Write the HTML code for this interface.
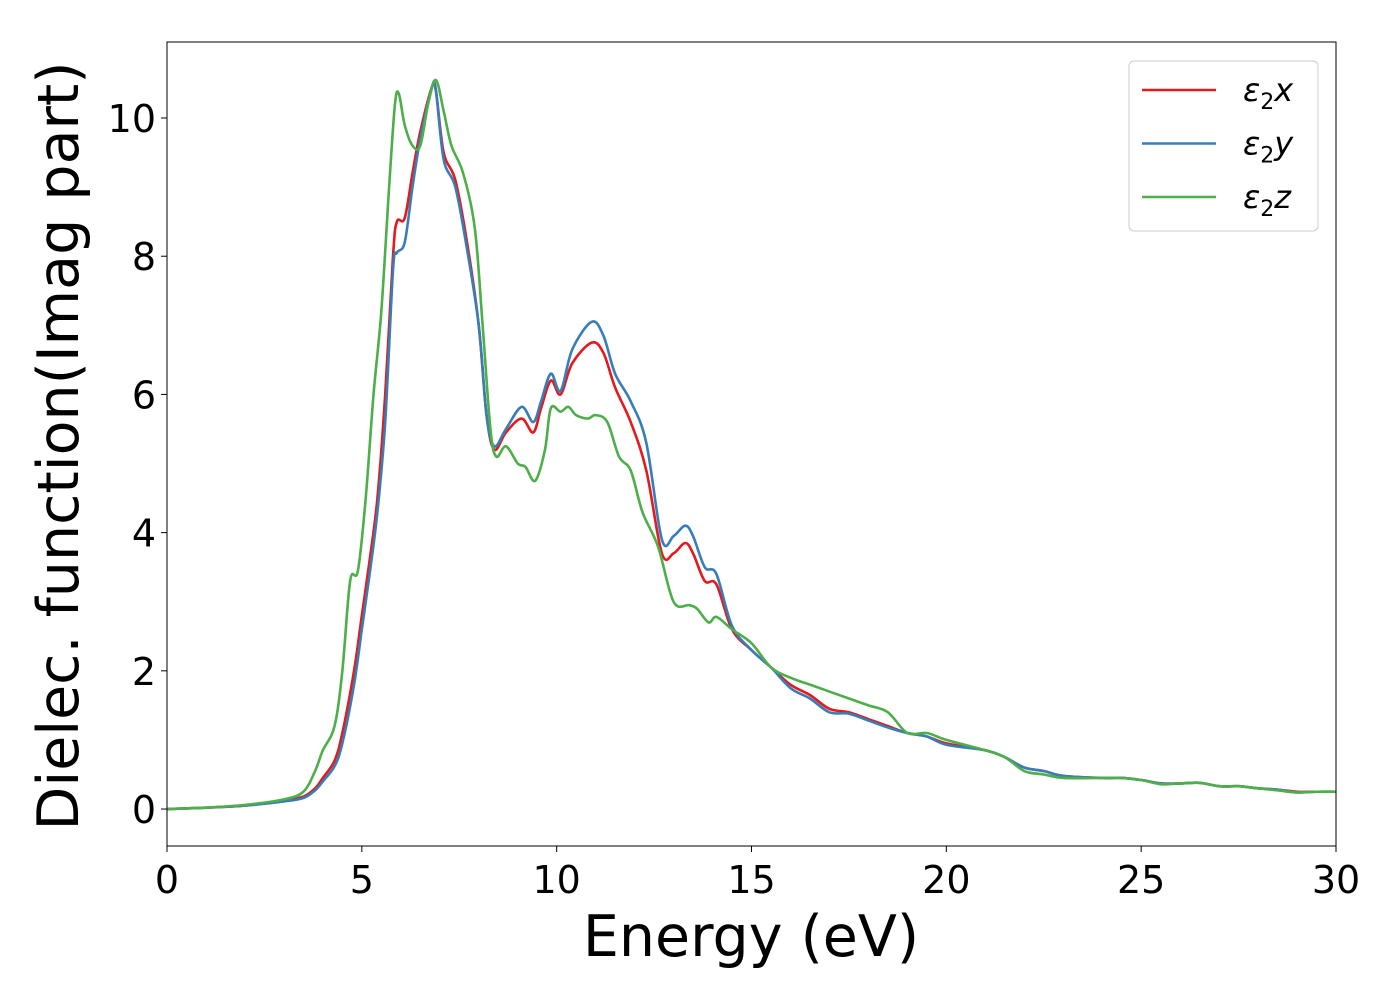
<!DOCTYPE html>
<html><head><meta charset="utf-8"><style>
html,body{margin:0;padding:0;background:#fff;}
svg{display:block;font-family:"DejaVu Sans","Liberation Sans",sans-serif;}
</style></head><body>
<svg id="chart" width="1400" height="1000">
<rect x="0" y="0" width="1400" height="1000" fill="#fff"/>
<g id="plot"></g>
<g id="axes"></g>
</svg>
<script>
const xRedBlue = [0,1,2,3,3.5,3.8,4,4.3,4.5,4.8,5,5.2,5.4,5.6,5.8,5.9,6.1,6.3,6.5,6.8,6.9,7.1,7.4,7.7,8,8.2,8.4,8.7,9.1,9.4,9.6,9.85,10.1,10.4,10.9,11.2,11.5,11.9,12.3,12.7,13,13.3,13.5,13.8,14.1,14.5,15,15.5,16,16.5,17,17.5,18,18.5,19,19.5,20,21,21.5,22,22.5,23,24,24.5,25,25.5,26,26.5,27,27.5,28,28.5,29,29.5,30];
const valuesX = [0,0.02,0.05,0.12,0.18,0.3,0.45,0.7,1.1,2.0,2.8,3.6,4.5,6.0,8.0,8.5,8.55,9.2,9.8,10.45,10.4,9.5,9.1,8.2,7.0,5.7,5.2,5.45,5.65,5.45,5.8,6.2,6.0,6.45,6.75,6.6,6.1,5.6,4.9,3.7,3.7,3.85,3.7,3.3,3.25,2.6,2.3,2.05,1.8,1.65,1.45,1.4,1.3,1.2,1.1,1.05,0.95,0.85,0.75,0.6,0.55,0.48,0.45,0.45,0.42,0.37,0.37,0.38,0.33,0.33,0.3,0.28,0.25,0.25,0.25];
const valuesY = [0,0.02,0.05,0.11,0.16,0.27,0.4,0.62,0.95,1.8,2.6,3.4,4.3,5.6,7.8,8.05,8.2,9.0,9.7,10.45,10.4,9.4,9.0,8.1,7.0,5.7,5.25,5.5,5.82,5.6,5.9,6.3,6.05,6.65,7.05,6.85,6.3,5.9,5.3,3.9,3.95,4.1,3.95,3.5,3.4,2.65,2.3,2.05,1.75,1.6,1.4,1.38,1.28,1.18,1.1,1.05,0.93,0.85,0.75,0.6,0.55,0.48,0.45,0.45,0.42,0.37,0.37,0.38,0.33,0.33,0.3,0.28,0.24,0.25,0.25];
const xGreen = [0,1,2,3,3.5,3.8,4,4.3,4.5,4.7,4.9,5.1,5.3,5.5,5.7,5.85,5.95,6.1,6.3,6.5,6.7,6.9,7.1,7.3,7.6,7.9,8.1,8.3,8.45,8.7,9.0,9.2,9.45,9.7,9.85,10.1,10.3,10.5,10.8,11.0,11.3,11.6,11.9,12.2,12.6,13,13.4,13.6,13.9,14.1,14.5,15,15.5,16,16.5,17,17.5,18,18.5,19,19.5,20,21,21.5,22,22.5,23,24,24.5,25,25.5,26,26.5,27,27.5,28,28.5,29,29.5,30];
const valuesZ = [0,0.02,0.06,0.14,0.25,0.55,0.85,1.2,2.0,3.3,3.45,4.5,6.0,7.2,9.0,10.2,10.35,9.9,9.6,9.6,10.2,10.55,10.1,9.6,9.2,8.4,7.0,5.5,5.1,5.25,5.0,4.95,4.75,5.2,5.8,5.75,5.82,5.7,5.65,5.7,5.6,5.1,4.9,4.3,3.8,3.0,2.95,2.9,2.7,2.78,2.6,2.4,2.05,1.9,1.8,1.7,1.6,1.5,1.4,1.1,1.1,1.0,0.85,0.75,0.55,0.5,0.45,0.45,0.45,0.42,0.36,0.37,0.38,0.33,0.33,0.3,0.27,0.24,0.25,0.25];
const xTicks = [0,5,10,15,20,25,30];
const yTicks = [0,2,4,6,8,10];
const seriesNames = ["x","y","z"];
const seriesColors = ["#e41a1c","#377eb8","#4daf4a"];

const L=167,R=1336,T=42,B=846;
const xMin=0,xMax=30,yMin=-0.535,yMax=11.1;
const sx=v=>L+(v-xMin)/(xMax-xMin)*(R-L);
const sy=v=>B-(v-yMin)/(yMax-yMin)*(B-T);
const NS="http://www.w3.org/2000/svg";
const plot=document.getElementById('plot'), axes=document.getElementById('axes');
function mk(tag,attrs,parent){const e=document.createElementNS(NS,tag);for(const k in attrs)e.setAttribute(k,attrs[k]);parent.appendChild(e);return e;}

function pathFor(xs,ys){
  const p=xs.map((x,i)=>[sx(x),sy(ys[i])]);
  let d=`M${p[0][0]},${p[0][1]}`;
  for(let i=0;i<p.length-1;i++){
    const p0=p[i-1]||p[i],p1=p[i],p2=p[i+1],p3=p[i+2]||p2;
    const c1=[p1[0]+(p2[0]-p0[0])/6,p1[1]+(p2[1]-p0[1])/6];
    const c2=[p2[0]-(p3[0]-p1[0])/6,p2[1]-(p3[1]-p1[1])/6];
    d+=`C${c1[0]},${c1[1]} ${c2[0]},${c2[1]} ${p2[0]},${p2[1]}`;
  }
  return d;
}
const defs=mk('defs',{},plot);
const cp=mk('clipPath',{id:'clip'},defs);
mk('rect',{x:L,y:T,width:R-L,height:B-T},cp);
const sets=[[xRedBlue,valuesX],[xRedBlue,valuesY],[xGreen,valuesZ]];
sets.forEach((s,i)=>{
  const e=mk('path',{d:pathFor(s[0],s[1]),fill:'none',stroke:seriesColors[i],'stroke-width':2.6,'clip-path':'url(#clip)'},plot);
  
  
});

const frame=mk('rect',{x:L,y:T,width:R-L,height:B-T,fill:'none',stroke:'#000','stroke-width':1},axes);


xTicks.forEach(v=>{
  const tk=mk('line',{x1:sx(v),x2:sx(v),y1:B,y2:B+6,stroke:'#000','stroke-width':1},axes);
  
  
  const t=mk('text',{x:sx(v),y:B+47,'text-anchor':'middle','font-size':38},axes);
  t.textContent=v;
  
  
});
yTicks.forEach(v=>{
  const tk=mk('line',{x1:L-6,x2:L,y1:sy(v),y2:sy(v),stroke:'#000','stroke-width':1},axes);
  
  
  const t=mk('text',{x:L-11,y:sy(v)+14,'text-anchor':'end','font-size':38},axes);
  t.textContent=v;
  
  
});
const xt=mk('text',{x:751,y:956,'text-anchor':'middle','font-size':57},axes);
xt.textContent='Energy (eV)';


const yt=mk('text',{x:0,y:0,'text-anchor':'middle','font-size':57,transform:'translate(78,446) rotate(-90)'},axes);
yt.textContent='Dielec. function(Imag part)';



const lg=mk('g',{},axes);


mk('rect',{x:1129,y:61,width:189,height:170,rx:5,fill:'#fff',stroke:'#ccc','stroke-width':1},lg);
seriesNames.forEach((n,i)=>{
  const y=90+i*53.5;
  const ln=mk('line',{x1:1142,x2:1216,y1:y,y2:y,stroke:seriesColors[i],'stroke-width':2.6},lg);
  
  
  const t=mk('text',{x:1243,y:y+11,'font-size':32,'font-style':'italic'},lg);
  t.innerHTML='ε<tspan font-style="normal" font-size="22" dy="8">2</tspan><tspan dy="-8">'+n+'</tspan>';
  
  
});
</script>
</body></html>
